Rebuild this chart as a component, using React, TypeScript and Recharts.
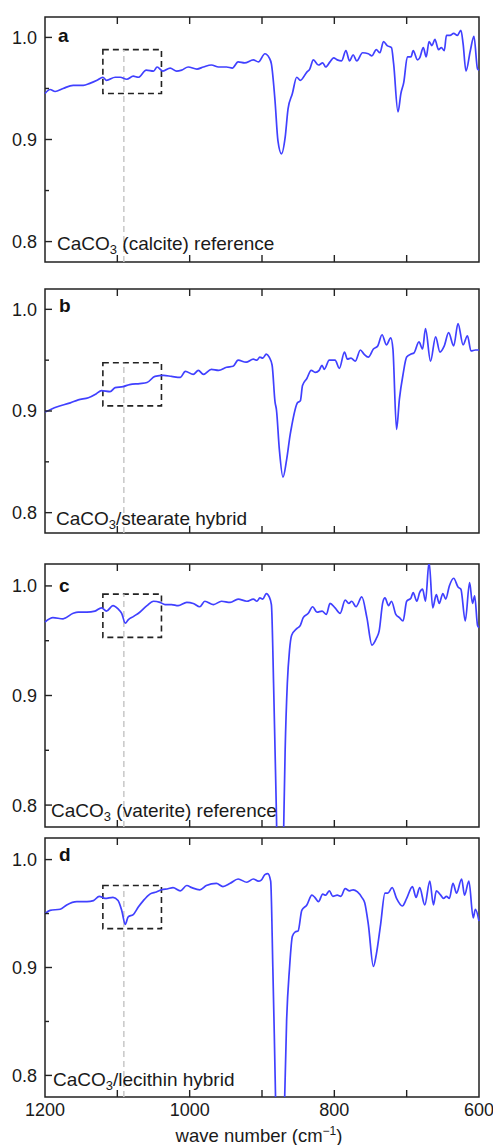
import { LineChart, Line, XAxis, YAxis, ReferenceArea, ReferenceLine } from 'recharts';

// [wave number (cm-1), transmittance]
const calcite: [number, number][] = [
  [1200, 0.945], [1193, 0.949], [1186, 0.947], [1175, 0.95], [1161, 0.953], [1147, 0.953],
  [1138, 0.955], [1128, 0.958], [1120, 0.961], [1115, 0.958], [1103, 0.961], [1096, 0.961],
  [1087, 0.959], [1078, 0.962], [1071, 0.961], [1060, 0.968], [1050, 0.967], [1045, 0.971],
  [1037, 0.967], [1027, 0.97], [1018, 0.967], [1011, 0.968], [1002, 0.971], [990, 0.969],
  [981, 0.971], [970, 0.973], [960, 0.971], [949, 0.971], [941, 0.97], [933, 0.976],
  [924, 0.975], [912, 0.978], [905, 0.976], [896, 0.984], [890, 0.98], [887, 0.974],
  [882, 0.938], [878, 0.899], [873, 0.886], [868, 0.902], [864, 0.93], [858, 0.945],
  [852, 0.961], [847, 0.958], [838, 0.966], [834, 0.969], [829, 0.978], [822, 0.973],
  [816, 0.975], [812, 0.971], [806, 0.976], [801, 0.98], [796, 0.978], [790, 0.977],
  [784, 0.987], [779, 0.977], [774, 0.983], [769, 0.977], [761, 0.985], [753, 0.984],
  [748, 0.982], [742, 0.988], [737, 0.985], [732, 0.996], [727, 0.992], [721, 0.99],
  [718, 0.974], [712, 0.927], [708, 0.945], [704, 0.956], [699, 0.981], [694, 0.981],
  [691, 0.987], [685, 0.978], [682, 0.98], [677, 0.99], [673, 0.981], [669, 0.996],
  [665, 0.992], [661, 0.998], [656, 0.988], [652, 0.99], [648, 0.987], [645, 1.002],
  [640, 1.002], [635, 1.004], [630, 1.002], [625, 1.007], [622, 0.994], [618, 0.967],
  [612, 0.987], [607, 1.001], [602, 0.969], [600, 0.968],
];

const stearate: [number, number][] = [
  [1200, 0.899], [1184, 0.904], [1165, 0.908], [1154, 0.911], [1140, 0.913], [1129, 0.917],
  [1122, 0.92], [1110, 0.919], [1103, 0.923], [1092, 0.924], [1083, 0.926], [1069, 0.927],
  [1059, 0.928], [1048, 0.934], [1036, 0.935], [1025, 0.934], [1013, 0.933], [1006, 0.939],
  [995, 0.936], [988, 0.94], [981, 0.936], [970, 0.941], [960, 0.94], [949, 0.943],
  [940, 0.944], [933, 0.95], [922, 0.948], [912, 0.951], [907, 0.95], [903, 0.953],
  [899, 0.952], [894, 0.956], [890, 0.953], [886, 0.945], [882, 0.909], [880, 0.901],
  [876, 0.862], [871, 0.835], [866, 0.852], [861, 0.877], [859, 0.885], [851, 0.908],
  [847, 0.91], [844, 0.925], [838, 0.932], [832, 0.94], [826, 0.938], [821, 0.94],
  [817, 0.945], [814, 0.941], [807, 0.95], [799, 0.95], [793, 0.942], [786, 0.958],
  [782, 0.951], [777, 0.952], [771, 0.949], [764, 0.96], [759, 0.956], [753, 0.953],
  [746, 0.961], [740, 0.964], [734, 0.975], [728, 0.965], [722, 0.972], [719, 0.961],
  [714, 0.882], [710, 0.912], [705, 0.936], [700, 0.953], [694, 0.956], [690, 0.957],
  [683, 0.968], [678, 0.961], [674, 0.981], [667, 0.949], [660, 0.973], [654, 0.958],
  [648, 0.964], [642, 0.977], [635, 0.964], [629, 0.986], [622, 0.965], [616, 0.974],
  [611, 0.959], [605, 0.96], [600, 0.96],
];

const vaterite: [number, number][] = [
  [1200, 0.967], [1189, 0.971], [1175, 0.97], [1161, 0.975], [1154, 0.976], [1142, 0.976],
  [1131, 0.977], [1122, 0.98], [1115, 0.977], [1106, 0.982], [1099, 0.979], [1094, 0.975],
  [1089, 0.966], [1085, 0.969], [1078, 0.972], [1069, 0.976], [1059, 0.982], [1050, 0.986],
  [1041, 0.985], [1034, 0.983], [1025, 0.983], [1016, 0.982], [1004, 0.985], [995, 0.984],
  [986, 0.981], [979, 0.986], [967, 0.983], [956, 0.986], [944, 0.985], [933, 0.988],
  [921, 0.986], [912, 0.988], [907, 0.986], [903, 0.989], [899, 0.988], [894, 0.993],
  [890, 0.99], [887, 0.983], [884, 0.911], [882, 0.851], [880, 0.79], [877, 0.66],
  [873, 0.66], [870, 0.78], [868, 0.85], [865, 0.911], [862, 0.941], [859, 0.955],
  [852, 0.961], [847, 0.964], [843, 0.971], [836, 0.975], [830, 0.981], [824, 0.976],
  [817, 0.977], [811, 0.974], [806, 0.984], [799, 0.98], [792, 0.975], [785, 0.987],
  [780, 0.984], [776, 0.986], [770, 0.981], [762, 0.99], [755, 0.971], [748, 0.946],
  [742, 0.952], [738, 0.959], [733, 0.985], [730, 0.989], [725, 0.982], [721, 0.986],
  [715, 0.974], [710, 0.971], [705, 0.968], [700, 0.986], [694, 0.989], [691, 0.994],
  [686, 0.986], [682, 0.994], [678, 0.997], [674, 0.986], [669, 1.022], [664, 0.98],
  [659, 0.992], [655, 0.984], [650, 0.993], [646, 0.988], [641, 1.0], [635, 1.007],
  [629, 0.999], [625, 0.997], [619, 0.968], [613, 1.003], [609, 0.984], [606, 0.991],
  [602, 0.964], [600, 0.962],
];

const lecithin: [number, number][] = [
  [1200, 0.95], [1193, 0.953], [1179, 0.954], [1170, 0.958], [1156, 0.961], [1142, 0.961],
  [1133, 0.962], [1125, 0.966], [1117, 0.964], [1106, 0.965], [1099, 0.962], [1094, 0.953],
  [1089, 0.94], [1085, 0.947], [1078, 0.949], [1071, 0.956], [1064, 0.962], [1055, 0.968],
  [1046, 0.97], [1039, 0.972], [1030, 0.973], [1023, 0.974], [1013, 0.971], [1004, 0.976],
  [997, 0.974], [986, 0.972], [977, 0.976], [963, 0.978], [954, 0.975], [944, 0.978],
  [933, 0.982], [921, 0.979], [912, 0.982], [905, 0.98], [901, 0.981], [896, 0.986],
  [892, 0.987], [888, 0.98], [885, 0.899], [883, 0.838], [881, 0.77], [877, 0.64],
  [872, 0.64], [869, 0.77], [866, 0.85], [862, 0.899], [858, 0.929], [854, 0.933],
  [850, 0.934], [845, 0.953], [838, 0.958], [831, 0.967], [827, 0.965], [822, 0.961],
  [816, 0.968], [812, 0.967], [807, 0.971], [802, 0.966], [796, 0.967], [791, 0.966],
  [785, 0.973], [779, 0.971], [774, 0.972], [768, 0.97], [762, 0.965], [758, 0.96],
  [753, 0.94], [746, 0.901], [742, 0.912], [736, 0.94], [730, 0.969], [726, 0.969],
  [720, 0.974], [714, 0.964], [706, 0.957], [700, 0.964], [692, 0.975], [687, 0.965],
  [682, 0.974], [675, 0.958], [668, 0.98], [663, 0.958], [659, 0.971], [653, 0.967],
  [649, 0.964], [645, 0.966], [641, 0.964], [636, 0.978], [631, 0.969], [624, 0.982],
  [620, 0.967], [614, 0.98], [608, 0.946], [605, 0.954], [600, 0.943],
];

const xTicks = [1200, 1100, 1000, 900, 800, 700, 600];
const xInnerTicks = [1100, 1000, 900, 800, 700];
const xLabelTicks = [1200, 1000, 800, 600];
const yTicks = [0.8, 0.85, 0.9, 0.95, 1.0];
const yLabelTicks = [0.8, 0.9, 1.0];
const yDomain: [number, number] = [0.78, 1.02];

// dashed inset box around the ~1090 cm-1 band
const boxWaves = [1120, 1039];
const guideWave = 1091;

const FONT = '"Liberation Sans", Arial, Helvetica, sans-serif';
const BLUE = '#4040ff';
const INK = '#222';
const TICK = 7;

const LeftTick = (props: any) => {
  const { x, y, payload } = props;
  const major = yLabelTicks.includes(payload.value);
  return (
    <g>
      <line x1={x} y1={y} x2={x + (major ? TICK : 4)} y2={y} stroke={INK} strokeWidth={1.4} />
      {major && (
        <text x={x - 8} y={y} dy="0.36em" textAnchor="end" fontSize={18} fontFamily={FONT} fill="#1a1a1a">
          {payload.value.toFixed(1)}
        </text>
      )}
    </g>
  );
};

const makeBottomLabel = (showLabel: boolean) => (props: any) => {
  const { x, y, payload } = props;
  if (!showLabel || !xLabelTicks.includes(payload.value)) return <g />;
  return (
    <text x={x} y={y + 19} textAnchor="middle" fontSize={18} fontFamily={FONT} fill="#1a1a1a">
      {payload.value}
    </text>
  );
};

interface PanelProps {
  points: [number, number][];
  plotTop: number;
  plotHeight: number;
  box: [number, number];
  last?: boolean;
}

function Panel({ points, plotTop, plotHeight, box, last = false }: PanelProps) {
  const data = points.map(([w, t]) => ({ w, t }));
  const mt = 8;
  const mb = last ? 0 : 4;
  const axisH = last ? 48 : 0;
  // inward tick length expressed in y units of this panel
  const tk = (TICK * (yDomain[1] - yDomain[0])) / plotHeight;
  return (
    <div style={{ position: 'absolute', left: 0, top: plotTop - mt }}>
      <LineChart
        width={493}
        height={mt + plotHeight + axisH + mb}
        data={data}
        margin={{ top: mt, right: 14, bottom: mb, left: 0 }}
      >
        <XAxis
          dataKey="w"
          type="number"
          domain={[600, 1200]}
          reversed
          ticks={xTicks}
          interval={0}
          height={axisH}
          tickSize={0}
          tickMargin={0}
          tickLine={false}
          axisLine={false}
          tick={makeBottomLabel(last)}
        />
        <YAxis
          type="number"
          domain={yDomain}
          allowDataOverflow
          ticks={yTicks}
          interval={0}
          width={45}
          tickSize={0}
          tickMargin={0}
          tickLine={false}
          axisLine={false}
          tick={LeftTick}
        />
        <ReferenceLine
          segment={[{ x: guideWave, y: yDomain[0] }, { x: guideWave, y: box[1] }]}
          stroke="#c8c8c8"
          strokeWidth={1.5}
          strokeDasharray="6 4"
        />
        <ReferenceArea
          x1={boxWaves[0]}
          x2={boxWaves[1]}
          y1={box[0]}
          y2={box[1]}
          fill="none"
          stroke={INK}
          strokeWidth={1.6}
          strokeDasharray="6 4"
        />
        {xInnerTicks.map((v) => (
          <ReferenceLine
            key={`b${v}`}
            segment={[{ x: v, y: yDomain[0] }, { x: v, y: yDomain[0] + tk }]}
            stroke={INK}
            strokeWidth={1.4}
          />
        ))}
        {xInnerTicks.map((v) => (
          <ReferenceLine
            key={`t${v}`}
            segment={[{ x: v, y: yDomain[1] - tk }, { x: v, y: yDomain[1] }]}
            stroke={INK}
            strokeWidth={1.4}
          />
        ))}
        <Line
          type="monotone"
          dataKey="t"
          stroke={BLUE}
          strokeWidth={1.7}
          dot={false}
          activeDot={false}
          isAnimationActive={false}
        />
        <ReferenceArea
          x1={1200}
          x2={600}
          y1={yDomain[0]}
          y2={yDomain[1]}
          fill="none"
          stroke={INK}
          strokeWidth={1.5}
        />
      </LineChart>
    </div>
  );
}

export default function App() {
  return (
    <div style={{ position: 'absolute', left: 0, top: 0, width: 493, height: 1145, background: '#fff' }}>
      <Panel points={calcite} plotTop={17} plotHeight={245} box={[0.945, 0.988]} />
      <Panel points={stearate} plotTop={289} plotHeight={244} box={[0.905, 0.9475]} />
      <Panel points={vaterite} plotTop={564} plotHeight={263} box={[0.953, 0.9925]} />
      <Panel points={lecithin} plotTop={838} plotHeight={259} box={[0.936, 0.976]} last />
      <svg
        width={493}
        height={1145}
        style={{ position: 'absolute', left: 0, top: 0, pointerEvents: 'none' }}
        fontFamily={FONT}
        fill="#111"
      >
        <g fontSize={19} fontWeight="bold">
          <text x={58} y={42}>a</text>
          <text x={59} y={312}>b</text>
          <text x={59} y={592}>c</text>
          <text x={59} y={861}>d</text>
        </g>
        <g fontSize={19} fill="#1a1a1a">
          <text x={57} y={250}>
            CaCO<tspan fontSize={13} dy={4}>3</tspan>
            <tspan dy={-4}> (calcite) reference</tspan>
          </text>
          <text x={56} y={525}>
            CaCO<tspan fontSize={13} dy={4}>3</tspan>
            <tspan dy={-4}>/stearate hybrid</tspan>
          </text>
          <text x={51} y={816.5}>
            CaCO<tspan fontSize={13} dy={4}>3</tspan>
            <tspan dy={-4}> (vaterite) reference</tspan>
          </text>
          <text x={53} y={1085.5}>
            CaCO<tspan fontSize={13} dy={4}>3</tspan>
            <tspan dy={-4}>/lecithin hybrid</tspan>
          </text>
        </g>
        <text x={259} y={1142} textAnchor="middle" fontSize={18.5} fill="#1a1a1a">
          wave number (cm<tspan fontSize={12} dy={-7}>−1</tspan>
          <tspan dy={7}>)</tspan>
        </text>
      </svg>
    </div>
  );
}
